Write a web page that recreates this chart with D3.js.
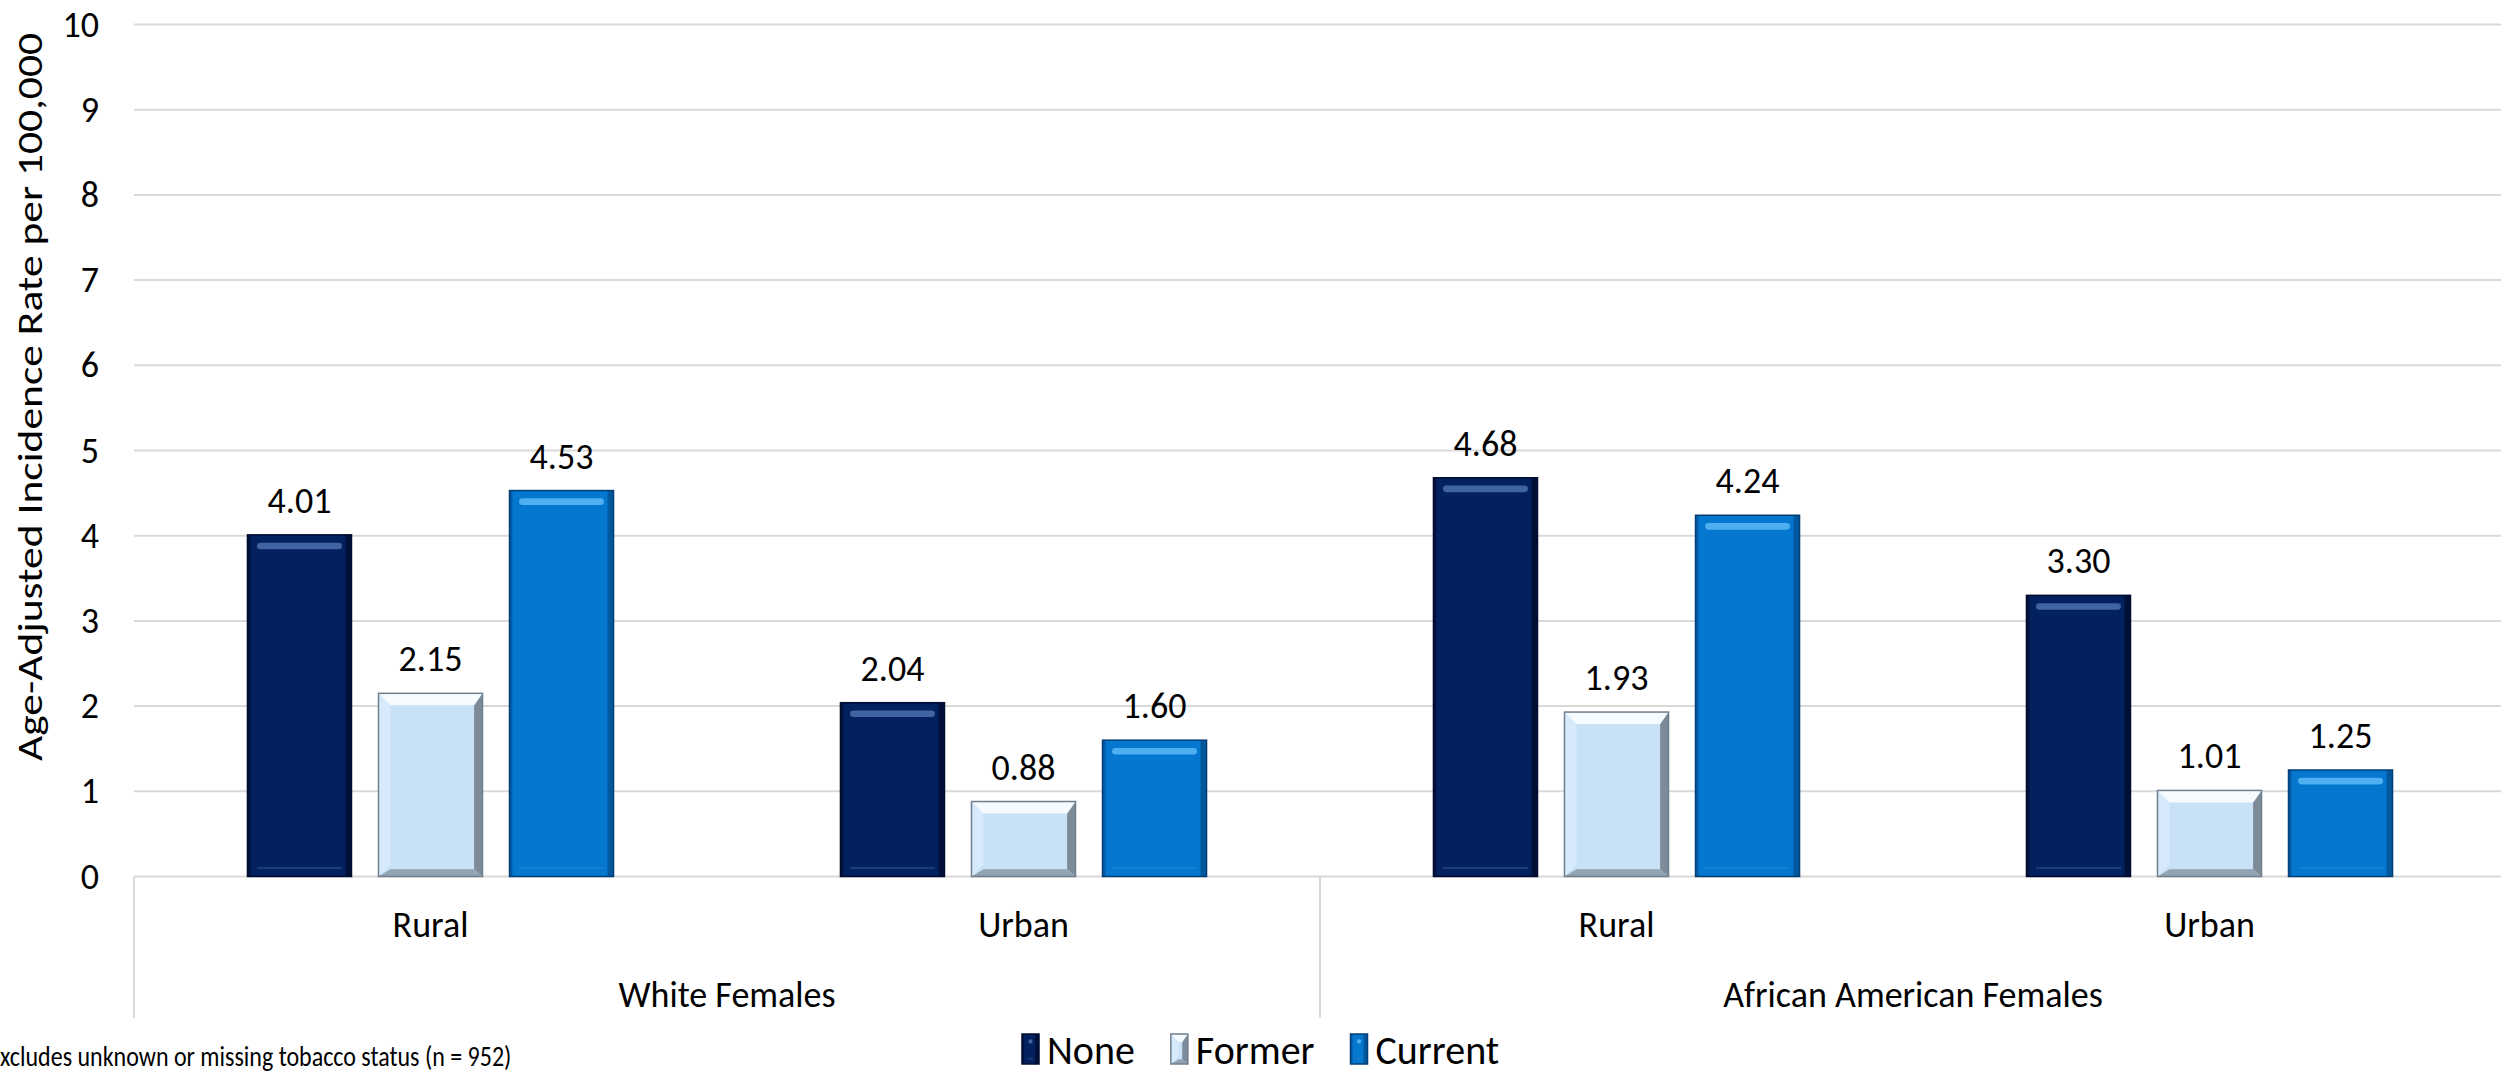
<!DOCTYPE html>
<html>
<head>
<meta charset="utf-8">
<script src="https://cdn.jsdelivr.net/npm/d3@7"></script>
<style>
  html, body { margin: 0; padding: 0; background: #ffffff; }
  svg { display: block; }
  text { font-family: Carlito, Calibri, Lato, sans-serif; fill: #000; }
</style>
</head>
<body>
<svg id="chart" width="2501" height="1078"></svg>
<script>
// ---- data ----
const groups = ["White Females", "African American Females"];
const areas = ["Rural", "Urban"];
const series = ["None", "Former", "Current"];
const noneValues = [4.01, 2.04, 4.68, 3.30];
const formerValues = [2.15, 0.88, 1.93, 1.01];
const currentValues = [4.53, 1.60, 4.24, 1.25];
const yTicks = [0, 1, 2, 3, 4, 5, 6, 7, 8, 9, 10];
const yTitle = "Age-Adjusted Incidence Rate per 100,000";
const footnote = "xcludes unknown or missing tobacco status (n = 952)";

(function () {
// ---- styles ----
const styles = {
  None:    { kind: "soft", fill: "#03215f", stroke: "#000d30", hi: "#5a80c0", hiOp: 0.7, edge: "#000a28", bot: "#3a5a98" },
  Former:  { kind: "bevel", fill: "#c8e1f7", stroke: "#6f7f8d", hi: "#f6fbff", lt: "#d8ebfb", dk: "#74818d", bot: "#8e9cab" },
  Current: { kind: "soft", fill: "#0577cf", stroke: "#023f75", hi: "#5cbaf6", hiOp: 0.85, edge: "#024a88", bot: "#2a8ad8" }
};

const valuesBySeries = { None: noneValues, Former: formerValues, Current: currentValues };
const rows = [];
groups.forEach((g, gi) => areas.forEach((a, ai) => {
  const idx = gi * areas.length + ai;
  series.forEach(s => rows.push({ group: g, area: a, series: s, value: valuesBySeries[s][idx] }));
}));

const svg = d3.select("#chart");
const pLeft = 134, pRight = 2506, pTop = 24.5, pBottom = 876.5;
const FS = 36;

const x0 = d3.scaleBand().domain(groups).range([pLeft, pRight]).padding(0);
const x1 = d3.scaleBand().domain(areas).range([0, x0.bandwidth()]).padding(0);
const x2 = d3.scaleBand().domain(series).range([0, x1.bandwidth()])
  .paddingInner(0.206).paddingOuter(0.866);
const y = d3.scaleLinear().domain([0, 10]).range([pBottom, pTop]);

// gridlines
svg.append("g").selectAll("line").data(yTicks).join("line")
  .attr("x1", pLeft).attr("x2", 2501)
  .attr("y1", d => y(d)).attr("y2", d => y(d))
  .attr("stroke", "#d9d9d9").attr("stroke-width", 2);

// y tick labels
svg.append("g").selectAll("text").data(yTicks).join("text")
  .attr("x", 99).attr("y", d => y(d) + 12)
  .attr("text-anchor", "end")
  .style("font-size", FS + "px")
  .text(d => d);

// y title
svg.append("text")
  .attr("transform", `translate(42, 397) rotate(-90)`)
  .attr("text-anchor", "middle")
  .attr("textLength", 728).attr("lengthAdjust", "spacingAndGlyphs")
  .style("font-size", "34px")
  .text(yTitle);

// category axis vertical separators
const sepXs = [pLeft].concat(groups.map(g => x0(g) + x0.bandwidth()));
svg.append("g").selectAll("line").data(sepXs).join("line")
  .attr("x1", d => d).attr("x2", d => d)
  .attr("y1", pBottom).attr("y2", 1018)
  .attr("stroke", "#d9d9d9").attr("stroke-width", 2);

// area labels
const areaLabels = [];
groups.forEach(g => areas.forEach(a => areaLabels.push({ g, a })));
svg.append("g").selectAll("text").data(areaLabels).join("text")
  .attr("x", d => x0(d.g) + x1(d.a) + x1.bandwidth() / 2)
  .attr("y", 937)
  .attr("text-anchor", "middle")
  .style("font-size", FS + "px")
  .text(d => d.a);

// group labels
svg.append("g").selectAll("text").data(groups).join("text")
  .attr("x", d => x0(d) + x0.bandwidth() / 2)
  .attr("y", 1007)
  .attr("text-anchor", "middle")
  .style("font-size", FS + "px")
  .text(d => d);

function poly(g, pts, fill, op) {
  g.append("polygon").attr("points", pts.join(" ")).attr("fill", fill).attr("opacity", op);
}

// bar drawing helper
function drawBar(g, xa, ya, w, h, st, b) {
  const xb = xa + w, yb = ya + h;
  b = Math.min(b, h / 2, w / 2);
  g.append("rect").attr("x", xa).attr("y", ya).attr("width", w).attr("height", h)
    .attr("fill", st.fill);
  if (st.kind === "bevel") {
    poly(g, [[xa, ya], [xa + b, ya + b], [xa + b, yb - b], [xa, yb]], st.lt, 0.9);
    poly(g, [[xb, ya], [xb - b * 0.7, ya + b], [xb - b * 0.7, yb - b * 0.6], [xb, yb]], st.dk, 0.9);
    poly(g, [[xa, yb], [xa + b, yb - b * 0.6], [xb - b * 0.7, yb - b * 0.6], [xb, yb]], st.bot, 0.9);
    poly(g, [[xa, ya], [xa + b, ya + b], [xb - b * 0.7, ya + b], [xb, ya]], st.hi, 1);
  } else {
    g.append("rect").attr("x", xb - b * 0.5).attr("y", ya).attr("width", b * 0.5).attr("height", h)
      .attr("fill", st.edge).attr("opacity", 0.7);
    g.append("rect").attr("x", xa).attr("y", ya).attr("width", b * 0.25).attr("height", h)
      .attr("fill", st.edge).attr("opacity", 0.6);
    const hb = Math.max(2, b * 0.55);
    g.append("rect").attr("x", xa + b * 0.8).attr("y", ya + b * 0.65)
      .attr("width", Math.max(0, w - b * 1.6)).attr("height", hb)
      .attr("rx", hb / 2)
      .attr("fill", st.hi).attr("opacity", st.hiOp);
    if (h > 3 * b) {
      g.append("rect").attr("x", xa + b * 0.8).attr("y", yb - b * 0.8)
        .attr("width", Math.max(0, w - b * 1.6)).attr("height", 2)
        .attr("fill", st.bot).attr("opacity", 0.5);
    }
  }
  g.append("rect").attr("x", xa).attr("y", ya).attr("width", w).attr("height", h)
    .attr("fill", "none").attr("stroke", st.stroke).attr("stroke-width", 1.5);
}

// bars
const barsG = svg.append("g");
rows.forEach(d => {
  const bx = x0(d.group) + x1(d.area) + x2(d.series);
  const by = y(d.value);
  const bh = y(0) - by;
  drawBar(barsG.append("g"), bx, by, x2.bandwidth(), bh, styles[d.series], 12);
});

// data labels
svg.append("g").selectAll("text").data(rows).join("text")
  .attr("x", d => x0(d.group) + x1(d.area) + x2(d.series) + x2.bandwidth() / 2)
  .attr("y", d => y(d.value) - 22)
  .attr("text-anchor", "middle")
  .style("font-size", FS + "px")
  .text(d => d.value.toFixed(2));

// legend
const legend = svg.append("g").attr("transform", "translate(1022, 1050)");
let lx = 0;
series.forEach(s => {
  const g = legend.append("g").attr("transform", `translate(${lx},0)`);
  drawBar(g, 0, -16, 17, 30, styles[s], 8);
  const t = g.append("text").attr("x", 25).attr("y", 14)
    .style("font-size", "40px").text(s);
  const w = t.node().getComputedTextLength();
  lx += 25 + w + 36;
});

// footnote
svg.append("text")
  .attr("transform", "translate(0, 1066) scale(1, 1.2)")
  .style("font-size", "24px")
  .text(footnote);
})();
</script>
</body>
</html>
